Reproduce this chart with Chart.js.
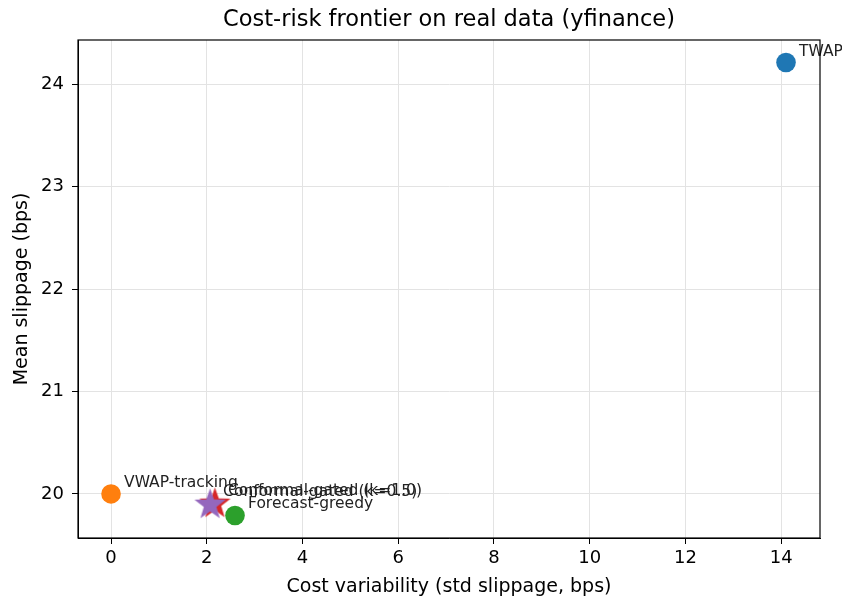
<!DOCTYPE html>
<html>
<head>
<meta charset="utf-8">
<script src="https://cdn.jsdelivr.net/npm/chart.js@4"></script>
<style>
  html, body { margin: 0; padding: 0; background: #fff; }
  #wrap { width: 842px; height: 599px; }
</style>
</head>
<body>
<div id="wrap"><canvas id="frontier"></canvas></div>
<script>
// strategies and their (std slippage, mean slippage) in bps
var strategies = ["TWAP", "VWAP-tracking", "Forecast-greedy", "Conformal-gated (k=1.0)", "Conformal-gated (k=0.5)"];
var costStd = [14.10, 0.0, 2.59, 2.17, 2.07];
var meanSlip = [24.21, 20.0, 19.79, 19.92, 19.91];
var colors = ["#1f77b4", "#ff7f0e", "#2ca02c", "#d62728", "#9467bd"];
var isStar = [false, false, false, true, true];
var drawOrder = [2, 2, 2, 1, 0];

var xTicks = [0, 2, 4, 6, 8, 10, 12, 14];
var yTicks = [20, 21, 22, 23, 24];

var chartTitle = "Cost-risk frontier on real data (yfinance)";
var FONT = "'DejaVu Sans', sans-serif";

function makeStar(color, r) {
  var c = document.createElement("canvas");
  var s = Math.ceil(r * 2 + 2);
  c.width = s; c.height = s;
  var g = c.getContext("2d");
  var cx = s / 2, cy = s / 2 + r * 0.1;
  g.beginPath();
  for (var i = 0; i < 10; i++) {
    var rr = i % 2 == 0 ? r : r * 0.4;
    var a = -Math.PI / 2 + i * Math.PI / 5;
    var px = cx + rr * Math.cos(a), py = cy + rr * Math.sin(a);
    if (i == 0) g.moveTo(px, py); else g.lineTo(px, py);
  }
  g.closePath();
  g.fillStyle = color;
  g.fill();
  return c;
}

var datasets = [];
for (var i = 0; i < strategies.length; i++) {
  datasets.push({
    label: strategies[i],
    data: [{ x: costStd[i], y: meanSlip[i] }],
    backgroundColor: colors[i],
    borderColor: colors[i],
    borderWidth: 0,
    order: drawOrder[i],
    pointRadius: isStar[i] ? 16.5 : 9.8,
    pointStyle: isStar[i] ? makeStar(colors[i], 16.5) : "circle"
  });
}

// text labels beside each point, the box round the axes, and the title over the plot area
var annotate = {
  id: "annotate",
  afterDatasetsDraw: function (chart) {
    var ctx = chart.ctx;
    var xs = chart.scales.x, ys = chart.scales.y;
    var a = chart.chartArea;
    ctx.save();
    ctx.font = "15.5px " + FONT;
    ctx.fillStyle = "#222";
    ctx.textBaseline = "alphabetic";
    for (var i = 0; i < strategies.length; i++) {
      var px = xs.getPixelForValue(costStd[i]);
      var py = ys.getPixelForValue(meanSlip[i]);
      ctx.fillText(strategies[i], px + 13, py - 7);
    }
    ctx.strokeStyle = "#000";
    ctx.lineWidth = 1.2;
    ctx.strokeRect(a.left, a.top, a.right - a.left, a.bottom - a.top);

    ctx.font = "22.5px " + FONT;
    ctx.fillStyle = "#000";
    ctx.textAlign = "center";
    ctx.textBaseline = "middle";
    ctx.fillText(chartTitle, (a.left + a.right) / 2, 20);
    ctx.restore();
  }
};

new Chart(document.getElementById("frontier"), {
  type: "scatter",
  data: { datasets: datasets },
  options: {
    responsive: true,
    maintainAspectRatio: false,
    animation: false,
    layout: { padding: { top: 40, right: 22, bottom: 0, left: 0 } },
    plugins: {
      legend: { display: false },
      tooltip: { enabled: false },
      title: { display: false }
    },
    scales: {
      x: {
        type: "linear",
        min: -0.69,
        max: 14.81,
        afterBuildTicks: function (s) { s.ticks = xTicks.map(function (v) { return { value: v }; }); },
        afterFit: function (s) { s.height = 61; },
        grid: { color: "#e3e3e3", tickColor: "#000", tickLength: 6 },
        border: { color: "#000" },
        ticks: { color: "#000", font: { family: FONT, size: 18 }, padding: 4 },
        title: { display: true, text: "Cost variability (std slippage, bps)", color: "#000",
                 font: { family: FONT, size: 19 }, padding: { top: 2, bottom: 1 } }
      },
      y: {
        type: "linear",
        min: 19.57,
        max: 24.43,
        afterBuildTicks: function (s) { s.ticks = yTicks.map(function (v) { return { value: v }; }); },
        afterFit: function (s) { s.width = 78; },
        grid: { color: "#e3e3e3", tickColor: "#000", tickLength: 6 },
        border: { color: "#000" },
        ticks: { color: "#000", font: { family: FONT, size: 18 }, padding: 8 },
        title: { display: true, text: "Mean slippage (bps)", color: "#000",
                 font: { family: FONT, size: 19 }, padding: { top: 11, bottom: 4 } }
      }
    }
  },
  plugins: [annotate]
});
</script>
</body>
</html>
